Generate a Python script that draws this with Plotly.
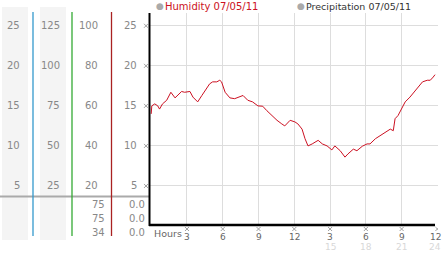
import plotly.graph_objects as go

W, H = 442, 253

# ---- data ----
hours = [0.0, 0.05, 0.3, 0.55, 0.7, 0.95, 1.3, 1.65, 2.0, 2.2, 2.55, 2.8, 3.25, 3.5, 3.9,
         4.25, 4.5, 4.9, 5.15, 5.5, 5.75, 5.9, 6.2, 6.6, 7.0, 7.45, 7.7, 8.1, 8.5, 8.95,
         9.35, 9.7, 10.1, 10.55, 10.95, 11.2, 11.65, 12.05, 12.3, 12.65, 12.9, 13.15, 13.5,
         13.75, 14.0, 14.35, 14.75, 15.15, 15.4, 15.85, 16.25, 16.5, 16.95, 17.25, 17.7,
         18.1, 18.35, 18.8, 19.2, 19.6, 20.05, 20.3, 20.45, 20.7, 21.05, 21.3, 21.7, 22.15,
         22.75, 23.15, 23.4, 23.65, 23.8]
humidity = [14.0, 15.0, 15.25, 15.0, 14.6, 15.25, 15.7, 16.7, 16.0, 16.3, 16.8, 16.7, 16.8, 16.1, 15.5,
            16.3, 16.9, 17.75, 18.0, 18.0, 18.2, 18.0, 16.7, 16.0, 15.9, 16.1, 16.3, 15.7, 15.5, 15.0,
            14.96, 14.4, 13.8, 13.2, 12.75, 12.5, 13.2, 13.0, 12.75, 12.1, 10.9, 10.0, 10.25,
            10.5, 10.7, 10.25, 10.0, 9.5, 10.0, 9.4, 8.6, 9.0, 9.6, 9.4, 9.96,
            10.25, 10.25, 10.9, 11.3, 11.7, 12.1, 11.9, 13.4, 13.8, 14.8, 15.5, 16.1, 16.9,
            18.0, 18.2, 18.2, 18.6, 18.9]

x_ticks = [3, 6, 9, 12, 15, 18, 21, 24]
x_labels_12 = ["3", "6", "9", "12", "3", "6", "9", "12"]
x_labels_24 = ["", "", "", "", "15", "18", "21", "24"]
y_ticks = [25, 20, 15, 10, 5]
y_labels = ["25", "20", "15", "10", "5"]
col1_labels = ["25", "20", "15", "10", "5"]
col2_labels = ["125", "100", "75", "50", "25"]
col3_labels = ["100", "80", "60", "40", "20"]
col4_labels = ["25", "20", "15", "10", "5"]
col3_low = ["75", "75", "34"]
col4_low = ["0.0", "0.0", "0.0"]

def px(x):
    return x / W

def py(y):
    return 1 - y / H

FONT = "DejaVu Sans"
X_RANGE = [-0.1, 24.05]
Y_RANGE = [0, 26.6]
X_DOM = [px(150), px(438)]
Y_DOM = [py(226), py(13)]
# pixels per data unit (used only for sizing the small tick glyphs)
XPX = (X_DOM[1] - X_DOM[0]) * W / (X_RANGE[1] - X_RANGE[0])
YPX = (Y_DOM[1] - Y_DOM[0]) * H / (Y_RANGE[1] - Y_RANGE[0])

fig = go.Figure()
fig.add_trace(go.Scatter(x=hours, y=humidity, mode="lines",
                         line=dict(color="#cc1122", width=1), hoverinfo="skip"))

fig.update_layout(
    width=W, height=H, margin=dict(l=0, r=0, t=0, b=0),
    paper_bgcolor="white", plot_bgcolor="white", showlegend=False,
    xaxis=dict(domain=X_DOM, range=X_RANGE, tickvals=x_ticks,
               showticklabels=False, showgrid=True, gridcolor="#dddddd", gridwidth=1,
               zeroline=False, showline=False, fixedrange=True),
    yaxis=dict(domain=Y_DOM, range=Y_RANGE, tickvals=y_ticks,
               showticklabels=False, showgrid=True, gridcolor="#dddddd", gridwidth=1,
               zeroline=False, showline=False, fixedrange=True),
)

shapes = []
shapes.append(dict(type="rect", xref="paper", yref="paper", x0=px(2), x1=px(28), y0=py(240), y1=py(7),
                   fillcolor="#f4f4f4", line=dict(width=0), layer="below"))
shapes.append(dict(type="rect", xref="paper", yref="paper", x0=px(40), x1=px(66), y0=py(240), y1=py(7),
                   fillcolor="#f4f4f4", line=dict(width=0), layer="below"))
shapes.append(dict(type="line", xref="paper", yref="paper", x0=px(0), x1=px(149), y0=py(196.5), y1=py(196.5),
                   line=dict(color="#aaaaaa", width=2)))
for xx, col in [(33, "#3399cc"), (72, "#33aa33"), (111.5, "#aa2222")]:
    shapes.append(dict(type="line", xref="paper", yref="paper", x0=px(xx), x1=px(xx), y0=py(236), y1=py(12),
                       line=dict(color=col, width=1.3)))
shapes.append(dict(type="line", xref="paper", yref="paper", x0=px(149.5), x1=px(149.5), y0=py(226), y1=py(13),
                   line=dict(color="black", width=2)))
shapes.append(dict(type="line", xref="paper", yref="paper", x0=px(149), x1=px(435), y0=py(225), y1=py(225),
                   line=dict(color="black", width=2.5)))

# small "x" tick glyphs beside the axes
mark = dict(color="#a0a0a0", width=1)
hx = 2.0 / XPX
for t in x_ticks:
    shapes.append(dict(type="line", xref="x", yref="paper", x0=t - hx, x1=t + hx, y0=py(231), y1=py(227), line=mark))
    shapes.append(dict(type="line", xref="x", yref="paper", x0=t - hx, x1=t + hx, y0=py(227), y1=py(231), line=mark))
hy = 2.0 / YPX
for v in y_ticks:
    shapes.append(dict(type="line", xref="paper", yref="y", x0=px(144), x1=px(148), y0=v - hy, y1=v + hy, line=mark))
    shapes.append(dict(type="line", xref="paper", yref="y", x0=px(144), x1=px(148), y0=v + hy, y1=v - hy, line=mark))
fig.update_layout(shapes=shapes)

ann = []
def add(text, x, y, xref="paper", yref="paper", size=10, color="#888888", xanchor="right",
        yanchor="middle", family=FONT):
    ann.append(dict(text=text, x=x, y=y, xref=xref, yref=yref, showarrow=False, borderpad=0,
                    font=dict(family=family, size=size, color=color), xanchor=xanchor, yanchor=yanchor))

for v, a, b, c, e in zip(y_ticks, col1_labels, col2_labels, col3_labels, y_labels):
    add(a, px(21), v, yref="y")
    add(b, px(61), v, yref="y")
    add(c, px(99), v, yref="y")
    add(e, px(138), v, yref="y")

for yy, a, b in zip([204, 218, 232], col3_low, col4_low):
    add(a, px(106), py(yy))
    add(b, px(146), py(yy))

for t, l12, l24 in zip(x_ticks, x_labels_12, x_labels_24):
    last = t == x_ticks[-1]
    if last:
        add(l12, 1.0, py(236.5), size=9, color="#666666", xanchor="right")
        add(l24, 1.0, py(247), size=9, color="#d8d8d8", xanchor="right")
    else:
        add(l12, t, py(236.5), xref="x", size=9, color="#666666", xanchor="center")
        if l24:
            add(l24, t, py(247), xref="x", size=9, color="#d8d8d8", xanchor="center")

add("Hours", px(153), py(233), size=9.5, color="#666666", xanchor="left")

add("●", px(155), py(6.5), size=9, color="#aaaaaa", xanchor="left")
add("Humidity 07/05/11", px(164), py(7), size=10, color="#cc1122", xanchor="left")
add("●", px(296), py(6.5), size=9, color="#aaaaaa", xanchor="left")
add("Precipitation 07/05/11", px(305), py(7), size=9.5, color="#333333", xanchor="left")

fig.update_layout(annotations=ann)
fig.write_html("out.html")
